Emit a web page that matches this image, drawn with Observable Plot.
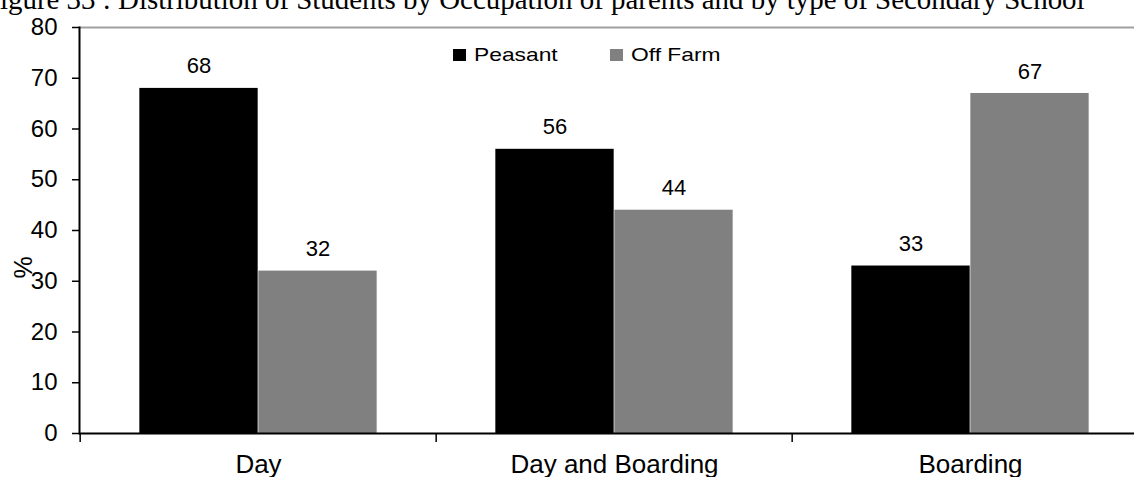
<!DOCTYPE html>
<html>
<head>
<meta charset="utf-8">
<script src="https://cdn.jsdelivr.net/npm/d3@7"></script>
<script src="https://cdn.jsdelivr.net/npm/@observablehq/plot@0.6"></script>
<style>
  body { margin: 0; background: white; }
  #wrap { position: relative; width: 1134px; height: 477px; overflow: hidden; background: white; }
  #title { position: absolute; left: 0; white-space: nowrap; font-family: "Liberation Serif", "Times New Roman", serif; line-height: 1; color: #000; }
  #chart { position: absolute; left: 0; top: 0; }
  .leg { position: absolute; font-family: "Liberation Sans", Arial, sans-serif; line-height: 1; color: #000; white-space: nowrap; transform-origin: left center; }
  .sw { position: absolute; width: 13px; height: 12px; }
</style>
</head>
<body>
<div id="wrap">
  <div id="chart"></div>
  <div id="title"></div>
  <div id="legend"></div>
</div>
<script>
// ---- data ----
const titleText = "igure 33 : Distribution of Students by Occupation of parents and by type of Secondary School";
const categories = ["Day", "Day and Boarding", "Boarding"];
const seriesNames = ["Peasant", "Off Farm"];
const peasant = [68, 56, 33];
const offFarm = [32, 44, 67];
const seriesColors = ["#000000", "#808080"];
const yTicks = [0, 10, 20, 30, 40, 50, 60, 70, 80];
const yLabel = "%";

const data = categories.flatMap((c, i) => [
  {cat: c, series: seriesNames[0], value: peasant[i]},
  {cat: c, series: seriesNames[1], value: offFarm[i]}
]);
const dP = data.filter(d => d.series === seriesNames[0]);
const dO = data.filter(d => d.series === seriesNames[1]);

const W = 1149, H = 477;
const mL = 79, mT = 27, mB = 44;
const step = (W - mL) / categories.length;
const barW = 119;
const outer = (step - 2 * barW) / 2;

const chart = Plot.plot({
  width: W, height: H,
  marginLeft: mL, marginRight: 0, marginTop: mT, marginBottom: mB,
  style: {maxWidth: "none", background: "transparent", fontFamily: "'Liberation Sans', Arial, sans-serif", color: "#000"},
  x: {domain: categories, padding: 0, axis: null},
  y: {domain: [0, 80], axis: null},
  color: {domain: seriesNames, range: seriesColors},
  marks: [
    Plot.ruleY([80], {stroke: "#a0a0a0", strokeWidth: 2}),
    Plot.barY(dP, {x: "cat", y: "value", fill: "series", insetLeft: outer, insetRight: step - outer - barW}),
    Plot.barY(dO, {x: "cat", y: "value", fill: "series", insetLeft: outer + barW, insetRight: outer}),
    Plot.text(dP, {x: "cat", y: "value", text: d => String(d.value), dx: -(barW / 2), dy: -22, fontSize: 22, fill: "#000"}),
    Plot.text(dO, {x: "cat", y: "value", text: d => String(d.value), dx: barW / 2, dy: -22, fontSize: 22, fill: "#000"}),
    Plot.ruleY([0], {stroke: "#000", strokeWidth: 2}),
    Plot.frame({anchor: "left", stroke: "#000", strokeWidth: 2}),
    Plot.axisY({ticks: yTicks, tickSize: 7, tickPadding: 15, fontSize: 24, strokeWidth: 1.5, label: null}),
    Plot.axisX({tickSize: 9, tickFormat: () => "", dx: -step / 2, strokeWidth: 1.5, label: null}),
    Plot.axisX({tickSize: 0, tickPadding: 21.5, fontSize: 26, label: null}),
    Plot.text([yLabel], {frameAnchor: "left", dx: -56, dy: 48, rotate: -90, fontSize: 25, fill: "#000"})
  ]
});
document.getElementById("chart").appendChild(chart);

// ---- title: fit width, baseline near top edge ----
const title = document.getElementById("title");
title.textContent = titleText;
const ctx = document.createElement("canvas").getContext("2d");
ctx.font = "100px 'Liberation Serif'";
const tw = ctx.measureText(titleText).width;
const tSize = 100 * 1085 / tw;
title.style.fontSize = tSize + "px";
title.style.top = (9 - 0.8375 * tSize) + "px";

// ---- legend ----
const legend = document.getElementById("legend");
const legX = [453, 610];
const legFont = 19;
seriesNames.forEach((s, i) => {
  const sw = document.createElement("div");
  sw.className = "sw";
  sw.style.left = legX[i] + "px";
  sw.style.top = "49px";
  sw.style.background = seriesColors[i];
  legend.appendChild(sw);
  const t = document.createElement("div");
  t.className = "leg";
  t.textContent = s;
  t.style.fontSize = legFont + "px";
  t.style.left = (legX[i] + 21) + "px";
  t.style.top = "44.6px";
  t.style.transform = "scaleX(1.2)";
  legend.appendChild(t);
});
</script>
</body>
</html>
